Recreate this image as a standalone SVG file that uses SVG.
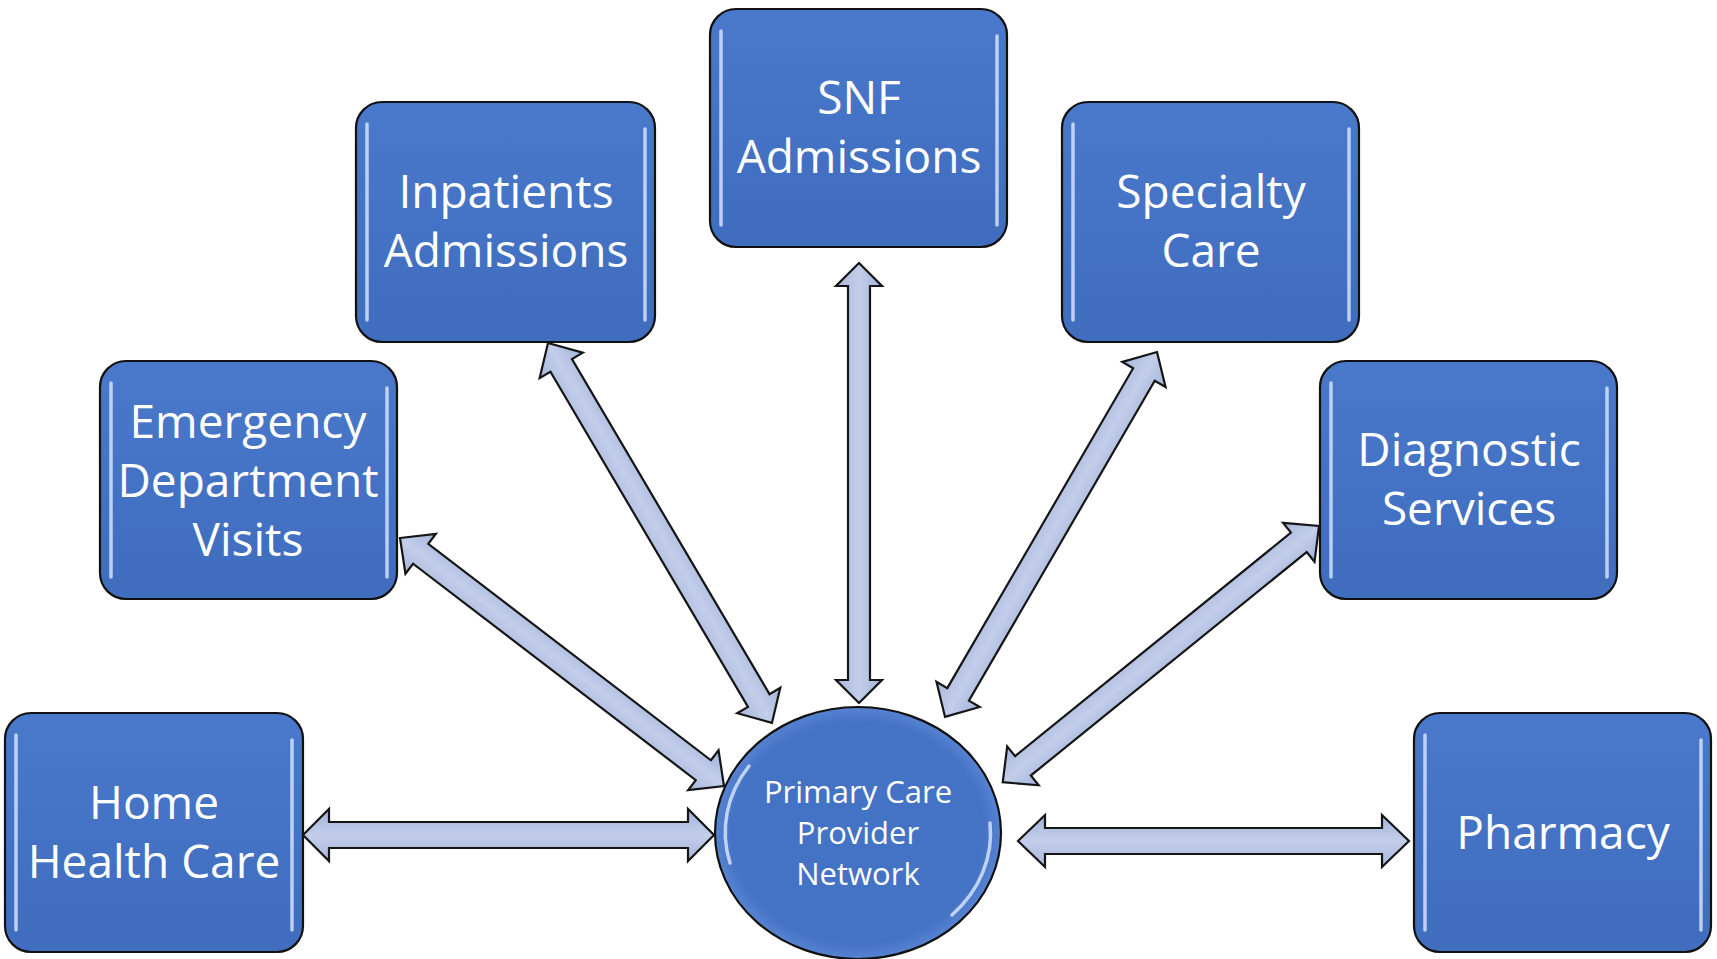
<svg xmlns="http://www.w3.org/2000/svg" width="1717" height="959" viewBox="0 0 1717 959">
<style>
.box{fill:url(#boxg);stroke:#111;stroke-width:2.2}
.hl{stroke:#DCE8FF;stroke-width:3.5;stroke-linecap:round;opacity:.8;fill:none}
.lbl{font-family:"Open Sans","Liberation Sans",sans-serif;font-size:46px;fill:#fff;text-anchor:middle}
.clbl{font-family:"Open Sans","Liberation Sans",sans-serif;font-size:31px;fill:#fff;text-anchor:middle}
.arr{fill:url(#arrg);stroke:#151515;stroke-width:2.2;stroke-linejoin:miter}
</style>
<defs>
<linearGradient id="boxg" x1="0" y1="0" x2="0" y2="1">
<stop offset="0" stop-color="#4A78CA"/>
<stop offset="0.5" stop-color="#4472C4"/>
<stop offset="1" stop-color="#406DBE"/>
</linearGradient>
<linearGradient id="arrg" x1="0" y1="0" x2="0" y2="1">
<stop offset="0" stop-color="#A2B3DA"/>
<stop offset="0.5" stop-color="#C3CEEA"/>
<stop offset="1" stop-color="#A7B6DB"/>
</linearGradient>
<radialGradient id="circg" cx="0.5" cy="0.5" r="0.5">
<stop offset="0" stop-color="#4472C4"/>
<stop offset="0.88" stop-color="#4472C4"/>
<stop offset="1" stop-color="#5783D2"/>
</radialGradient>
</defs>

<g id="home">
<rect class="box" x="5" y="713" width="298" height="239" rx="26"/>
<line class="hl" x1="16" y1="735" x2="16" y2="930"/>
<line class="hl" x1="292" y1="740" x2="292" y2="930"/>
<text class="lbl" x="154" y="819">Home</text>
<text class="lbl" x="154" y="878">Health Care</text>
</g>

<g id="emergency">
<rect class="box" x="100" y="361" width="297" height="238" rx="26"/>
<line class="hl" x1="111" y1="383" x2="111" y2="577"/>
<line class="hl" x1="387" y1="388" x2="387" y2="577"/>
<text class="lbl" x="248" y="438">Emergency</text>
<text class="lbl" x="248" y="497">Department</text>
<text class="lbl" x="248" y="556">Visits</text>
</g>

<g id="inpatients">
<rect class="box" x="356" y="102" width="299" height="240" rx="26"/>
<line class="hl" x1="367" y1="124" x2="367" y2="320"/>
<line class="hl" x1="645" y1="129" x2="645" y2="320"/>
<text class="lbl" x="506" y="208">Inpatients</text>
<text class="lbl" x="506" y="267">Admissions</text>
</g>

<g id="snf">
<rect class="box" x="710" y="9" width="297" height="238" rx="26"/>
<line class="hl" x1="721" y1="31" x2="721" y2="225"/>
<line class="hl" x1="997" y1="36" x2="997" y2="225"/>
<text class="lbl" x="859" y="114">SNF</text>
<text class="lbl" x="859" y="173">Admissions</text>
</g>

<g id="specialty">
<rect class="box" x="1062" y="102" width="297" height="240" rx="26"/>
<line class="hl" x1="1073" y1="124" x2="1073" y2="320"/>
<line class="hl" x1="1349" y1="129" x2="1349" y2="320"/>
<text class="lbl" x="1211" y="208">Specialty</text>
<text class="lbl" x="1211" y="267">Care</text>
</g>

<g id="diagnostic">
<rect class="box" x="1320" y="361" width="297" height="238" rx="26"/>
<line class="hl" x1="1331" y1="383" x2="1331" y2="577"/>
<line class="hl" x1="1607" y1="388" x2="1607" y2="577"/>
<text class="lbl" x="1469" y="466">Diagnostic</text>
<text class="lbl" x="1469" y="525">Services</text>
</g>

<g id="pharmacy">
<rect class="box" x="1414" y="713" width="297" height="239" rx="26"/>
<line class="hl" x1="1425" y1="735" x2="1425" y2="930"/>
<line class="hl" x1="1701" y1="740" x2="1701" y2="930"/>
<text class="lbl" x="1563" y="849">Pharmacy</text>
</g>

<g id="pcp">
<ellipse cx="858" cy="833" rx="143" ry="126" fill="url(#circg)" stroke="#111" stroke-width="2.2"/>
<path d="M749,766 A133,116 0 0 0 730,863" class="hl" stroke-width="3"/>
<path d="M990,823 A133,116 0 0 1 952,915" class="hl" stroke-width="3"/>
<text class="clbl" x="858" y="803">Primary Care</text>
<text class="clbl" x="858" y="844">Provider</text>
<text class="clbl" x="858" y="885">Network</text>
</g>

<g id="connectors">
<path class="arr" transform="translate(303,835)" d="M0,0 L26,-26 L26,-13 L385,-13 L385,-26 L411,0 L385,26 L385,13 L26,13 L26,26 Z"/>
<path class="arr" transform="translate(1018,841)" d="M0,0 L27,-26 L27,-13 L364,-13 L364,-26 L391,0 L364,26 L364,13 L27,13 L27,26 Z"/>
<path class="arr" transform="translate(859,263) rotate(90)" d="M0,0 L23,-23 L23,-11 L417,-11 L417,-23 L440,0 L417,23 L417,11 L23,11 L23,23 Z"/>
<path class="arr" transform="translate(400,538) rotate(37.43)" d="M0,0 L26,-25 L26,-12.5 L382,-12.5 L382,-25 L408,0 L382,25 L382,12.5 L26,12.5 L26,25 Z"/>
<path class="arr" transform="translate(548,343) rotate(59.48)" d="M0,0 L26,-25 L26,-12.5 L415,-12.5 L415,-25 L441,0 L415,25 L415,12.5 L26,12.5 L26,25 Z"/>
<path class="arr" transform="translate(1157,352) rotate(120.15)" d="M0,0 L26,-25 L26,-12.5 L396,-12.5 L396,-25 L422,0 L396,25 L396,12.5 L26,12.5 L26,25 Z"/>
<path class="arr" transform="translate(1319,526) rotate(140.99)" d="M0,0 L26,-25 L26,-12.5 L381,-12.5 L381,-25 L407,0 L381,25 L381,12.5 L26,12.5 L26,25 Z"/>
</g>
</svg>
